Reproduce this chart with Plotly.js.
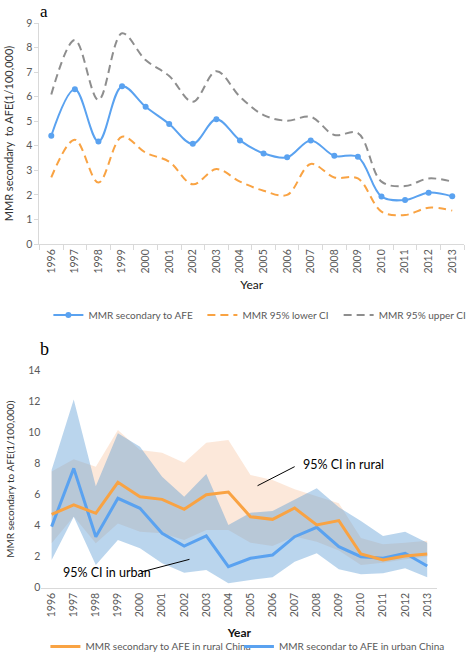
<!DOCTYPE html>
<html><head><meta charset="utf-8">
<script src="https://cdn.plot.ly/plotly-3.0.1.min.js"></script>
<style>html,body{margin:0;padding:0;background:#fff}#chart{width:472px;height:661px}</style>
</head><body><div id="chart"></div>
<script>
// ---- data ----
const years = [1996,1997,1998,1999,2000,2001,2002,2003,2004,2005,2006,2007,2008,2009,2010,2011,2012,2013];
const yearLabels = years.map(String);
// panel a
const mmrA   = [4.41,6.30,4.17,6.42,5.59,4.89,4.08,5.08,4.22,3.69,3.53,4.22,3.59,3.55,1.93,1.79,2.09,1.94];
const lowerA = [2.71,4.25,2.50,4.37,3.72,3.35,2.43,3.05,2.54,2.17,2.00,3.26,2.71,2.67,1.32,1.18,1.48,1.36];
const upperA = [6.09,8.31,5.86,8.58,7.49,6.84,5.79,7.04,6.00,5.25,5.02,5.18,4.44,4.52,2.54,2.36,2.67,2.54];
// panel b
const rural      = [4.73,5.34,4.80,6.80,5.87,5.70,5.06,6.00,6.17,4.58,4.41,5.14,4.05,4.33,2.17,1.79,2.04,2.17];
const ruralLower = [2.86,4.60,2.86,4.15,3.61,3.51,3.08,3.72,3.72,2.90,2.69,3.30,2.97,2.40,1.46,1.61,1.83,2.00];
const ruralUpper = [7.50,8.28,7.80,10.17,8.88,8.71,8.06,9.35,9.53,7.27,6.95,6.35,5.90,5.45,3.20,2.80,2.90,3.03];
const urban      = [3.94,7.70,3.29,5.77,5.12,3.51,2.69,3.34,1.36,1.90,2.11,3.29,3.90,2.65,2.00,1.90,2.22,1.40];
const urbanLower = [1.79,4.58,1.46,3.08,2.54,1.57,0.97,1.14,0.28,0.50,0.67,1.68,2.22,1.19,0.86,0.93,1.25,0.67];
const urbanUpper = [7.60,12.15,6.55,9.96,9.10,7.16,5.87,7.34,4.05,4.84,4.95,5.66,6.41,5.19,4.30,3.34,3.61,2.90];

const W = 472, H = 661;
const px = v => v / W;
const py = v => 1 - v / H;

const BLUE = '#5aa2f0', ORANGE = '#f9a343', GRAY = '#8e8e8e';
const FONT = 'Lato, "Open Sans", sans-serif';

const traces = [
  // panel a
  {x: yearLabels, y: upperA, xaxis:'x', yaxis:'y', mode:'lines', name:'MMR 95% upper CI',
   line:{color:GRAY, width:2, dash:'8px,5px', shape:'spline', smoothing:1}, legend:'legend3'},
  {x: yearLabels, y: lowerA, xaxis:'x', yaxis:'y', mode:'lines', name:'MMR 95% lower CI',
   line:{color:ORANGE, width:2, dash:'8px,5px', shape:'spline', smoothing:1}, legend:'legend2'},
  {x: yearLabels, y: mmrA, xaxis:'x', yaxis:'y', mode:'lines+markers', name:'MMR secondary to AFE',
   line:{color:BLUE, width:2, shape:'spline', smoothing:1}, marker:{color:BLUE, size:6}, legend:'legend'},
  // panel b bands
  {x: years, y: ruralLower, xaxis:'x2', yaxis:'y2', mode:'lines', line:{width:0, color:'rgba(0,0,0,0)'},
   showlegend:false, hoverinfo:'skip', legend:'legend4'},
  {x: years, y: ruralUpper, xaxis:'x2', yaxis:'y2', mode:'lines', line:{width:0, color:'rgba(0,0,0,0)'},
   fill:'tonexty', fillcolor:'rgba(248,203,173,0.45)', showlegend:false, hoverinfo:'skip', legend:'legend4'},
  {x: years, y: urbanLower, xaxis:'x2', yaxis:'y2', mode:'lines', line:{width:0, color:'rgba(0,0,0,0)'},
   showlegend:false, hoverinfo:'skip', legend:'legend4'},
  {x: years, y: urbanUpper, xaxis:'x2', yaxis:'y2', mode:'lines', line:{width:0, color:'rgba(0,0,0,0)'},
   fill:'tonexty', fillcolor:'rgba(91,155,213,0.42)', showlegend:false, hoverinfo:'skip', legend:'legend4'},
  // panel b lines
  {x: years, y: urban, xaxis:'x2', yaxis:'y2', mode:'lines', name:'MMR secondar to AFE in urban China',
   line:{color:BLUE, width:3}, legend:'legend5'},
  {x: years, y: rural, xaxis:'x2', yaxis:'y2', mode:'lines', name:'MMR secondary to AFE in rural China',
   line:{color:ORANGE, width:3}, legend:'legend4'}
];

const tickFont = {family: FONT, size: 10.5, color: '#595959'};
const legFont = {family: FONT, size: 10, color: '#595959'};
const legBase = {orientation:'h', xanchor:'left', yanchor:'middle', font:legFont, bgcolor:'rgba(0,0,0,0)', borderwidth:0};

const layout = {
  width: W, height: H,
  margin: {l:0, r:0, t:0, b:0},
  paper_bgcolor: '#fff', plot_bgcolor: 'rgba(0,0,0,0)',
  font: {family: FONT, color:'#595959'},
  showlegend: true,
  xaxis: {
    domain: [px(40), px(470)], anchor:'y', type:'category', range:[-0.5, 17.5],
    tickson:'boundaries', ticks:'outside', ticklen:5, tickcolor:'#d9d9d9',
    showline:true, linecolor:'#d9d9d9', linewidth:1, showgrid:false, zeroline:false,
    tickangle:-90, tickfont: tickFont,
    title:{text:'Year', font:{family:FONT, size:12, color:'#111'}, standoff:8}
  },
  yaxis: {
    domain: [py(244), py(23)], anchor:'x', range:[0,9], dtick:1,
    ticks:'outside', ticklen:4, tickcolor:'#d9d9d9',
    showline:true, linecolor:'#d9d9d9', linewidth:1, showgrid:false, zeroline:false,
    tickfont: tickFont,
    title:{text:'MMR secondary  to AFE(1/100,000)', font:{family:FONT, size:11, color:'#333'}, standoff:10}
  },
  xaxis2: {
    domain: [px(42), px(443)], anchor:'y2', range:[1995.54, 2013.46],
    tickvals: years, ticktext: yearLabels, ticks:'',
    showline:true, linecolor:'#d9d9d9', linewidth:1, showgrid:false, zeroline:false,
    tickangle:-90, tickfont: tickFont,
    title:{text:'<b>Year</b>', font:{family:FONT, size:12, color:'#111'}, standoff:12}
  },
  yaxis2: {
    domain: [py(587.7), py(370.7)], anchor:'x2', range:[0,14], dtick:2,
    ticks:'', showline:false, showgrid:false, zeroline:false,
    tickfont: tickFont,
    title:{text:'MMR secondary to AFE(1/100,000)', font:{family:FONT, size:10, color:'#333'}, standoff:11}
  },
  legend:  Object.assign({}, legBase, {x: px(49),  y: py(315)}),
  legend2: Object.assign({}, legBase, {x: px(205), y: py(315)}),
  legend3: Object.assign({}, legBase, {x: px(343), y: py(315)}),
  legend4: Object.assign({}, legBase, {x: px(46),  y: 0, yanchor:'bottom'}),
  legend5: Object.assign({}, legBase, {x: px(242), y: 0, yanchor:'bottom'}),
  shapes: [
    {type:'line', xref:'x2', yref:'y2', x0:2005.32, y0:6.58, x1:2007.0, y1:7.81, line:{color:'#000', width:1}},
    {type:'line', xref:'x2', yref:'y2', x0:2000.05, y0:1.01, x1:2002.24, y1:1.83, line:{color:'#000', width:1}}
  ],
  annotations: [
    {text:'a', xref:'paper', yref:'paper', x:px(38), y:py(11), xanchor:'left', yanchor:'middle', showarrow:false,
     font:{family:'"Liberation Serif", "DejaVu Serif", serif', size:17, color:'#000'}},
    {text:'b', xref:'paper', yref:'paper', x:px(38), y:py(349), xanchor:'left', yanchor:'middle', showarrow:false,
     font:{family:'"Liberation Serif", "DejaVu Serif", serif', size:18, color:'#000'}},
    {text:'95% CI in rural', xref:'x2', yref:'y2', x:2007.28, y:7.92, xanchor:'left', yanchor:'middle', showarrow:false,
     font:{family:FONT, size:12.5, color:'#000'}},
    {text:'95% CI in urban', xref:'x2', yref:'y2', x:1996.43, y:1.01, xanchor:'left', yanchor:'middle', showarrow:false,
     font:{family:FONT, size:12.5, color:'#000'}}
  ]
};

Plotly.newPlot('chart', traces, layout, {displayModeBar:false, staticPlot:true});
</script>
</body></html>
